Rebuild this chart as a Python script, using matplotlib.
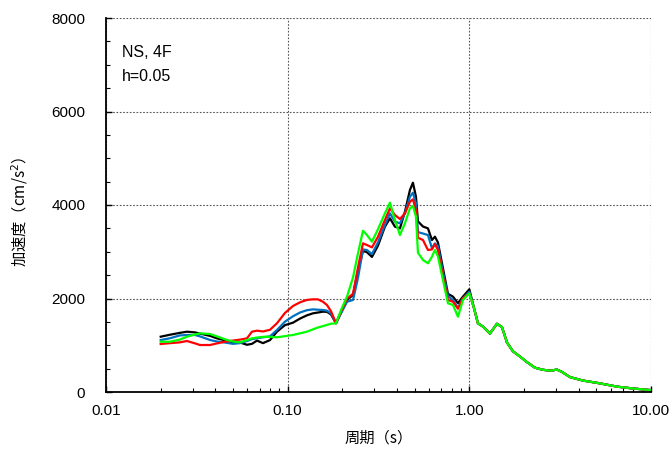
import matplotlib
matplotlib.use("Agg")
import matplotlib.pyplot as plt
import numpy as np
from matplotlib.ticker import FixedLocator, NullFormatter, FuncFormatter, MultipleLocator

# ---- data (period [s], acceleration [cm/s^2]) ----
low_periods = [0.0200, 0.0225, 0.0255, 0.0279, 0.0309, 0.0329, 0.0374, 0.0408, 0.0452,
               0.0500, 0.0546, 0.0597, 0.0636, 0.0678, 0.0731, 0.0799, 0.0873, 0.0966,
               0.1070, 0.1169, 0.1277, 0.1378, 0.1468, 0.1564, 0.1646, 0.1731, 0.1845]
mid_periods = [0.1965, 0.2121, 0.2289, 0.2438, 0.2597, 0.2731, 0.2911, 0.3141, 0.3431,
               0.3656, 0.3895, 0.4150, 0.4421, 0.4711, 0.4893, 0.5083, 0.5214, 0.5555,
               0.5920, 0.6226, 0.6467, 0.6717, 0.7157, 0.7626, 0.8125, 0.8657, 0.9223, 1.0]
tail_periods = [1.060, 1.115, 1.188, 1.298, 1.419, 1.512, 1.611, 1.738, 1.899, 2.075,
                2.296, 2.541, 2.812, 3.034, 3.233, 3.578, 4.219, 5.233, 6.492, 7.952, 10.0]

black_low = [1183, 1225, 1265, 1290, 1275, 1250, 1200, 1148, 1105, 1062, 1060, 1010, 1030,
             1100, 1045, 1110, 1290, 1430, 1483, 1570, 1640, 1683, 1700, 1718, 1715, 1660, 1470]
blue_low = [1112, 1150, 1210, 1219, 1219, 1190, 1112, 1080, 1058, 1030, 1045, 1090, 1130,
            1150, 1170, 1190, 1326, 1504, 1620, 1700, 1750, 1768, 1760, 1754, 1740, 1680, 1470]
red_low = [1027, 1045, 1062, 1091, 1040, 1005, 1005, 1040, 1076, 1100, 1120, 1148, 1290,
           1312, 1295, 1330, 1470, 1690, 1840, 1918, 1970, 1982, 1982, 1930, 1860, 1730, 1470]
green_low = [1076, 1076, 1120, 1183, 1230, 1255, 1240, 1190, 1127, 1080, 1062, 1110, 1148,
             1165, 1180, 1180, 1170, 1195, 1220, 1255, 1290, 1340, 1380, 1410, 1435, 1460, 1470]

black_mid = [1700, 1968, 2075, 2580, 3020, 2990, 2890, 3130, 3536, 3715, 3536, 3500, 3857,
             4321, 4477, 4178, 3650, 3540, 3500, 3251, 3322, 3200, 2650, 2100, 2040, 1900, 2040, 2197]
blue_mid = [1680, 1930, 1968, 2440, 3050, 3037, 2950, 3200, 3572, 3822, 3643, 3608, 3822,
            4178, 4263, 4035, 3420, 3390, 3358, 3073, 3180, 3120, 2560, 2050, 1968, 1800, 2005, 2146]
red_mid = [1720, 2000, 2100, 2660, 3180, 3144, 3094, 3320, 3679, 3929, 3786, 3700, 3822,
           4071, 4120, 3893, 3300, 3251, 3037, 3050, 3165, 3037, 2470, 1968, 1932, 1780, 2005, 2111]
green_mid = [1750, 2040, 2450, 2966, 3450, 3358, 3215, 3480, 3822, 4050, 3679, 3358, 3608,
             3929, 3979, 3750, 2980, 2824, 2753, 2894, 3037, 2900, 2400, 1897, 1861, 1611, 1968, 2111]

tail_values = [1800, 1470, 1400, 1250, 1460, 1390, 1060, 870, 760, 640,
               520, 475, 456, 480, 430, 320, 245, 185, 115, 75, 40]

series = [
    ("black", "#000000", black_low, black_mid),
    ("blue", "#0070C0", blue_low, blue_mid),
    ("red", "#FF0000", red_low, red_mid),
    ("green", "#00FF00", green_low, green_mid),
]

periods = low_periods + mid_periods + tail_periods

xticks = [0.01, 0.1, 1.0, 10.0]
yticks = [0, 2000, 4000, 6000, 8000]

fig = plt.figure(figsize=(6.69, 4.53), dpi=100)
ax = fig.add_axes([106/669, 61/453, 545/669, 374/453])

for name, color, lo, mi in series:
    vals = lo + mi + tail_values
    ax.plot(periods, vals, color=color, lw=1.6, solid_joinstyle="round")

ax.set_xscale("log")
ax.set_xlim(0.01, 10)
ax.set_ylim(0, 8000)
ax.xaxis.set_major_locator(FixedLocator(xticks))
ax.xaxis.set_minor_locator(FixedLocator([m * d for d in [0.01, 0.1, 1.0] for m in range(2, 10)]))
ax.xaxis.set_minor_formatter(NullFormatter())
ax.xaxis.set_major_formatter(FuncFormatter(lambda v, p: f"{v:.2f}"))
ax.yaxis.set_major_locator(FixedLocator(yticks))
ax.yaxis.set_minor_locator(MultipleLocator(500))

ax.grid(True, which="major", color="#555555", linestyle=(0, (1.5, 1.5)), linewidth=0.8)
ax.tick_params(which="both", direction="in", color="black")
ax.tick_params(which="major", length=4, width=1)
ax.tick_params(which="minor", length=3, width=0.8)
ax.tick_params(axis="x", which="major", pad=8.5)
ax.tick_params(axis="y", which="major", pad=15)
for s in ["top", "right"]:
    ax.spines[s].set_visible(False)
for s in ["left", "bottom"]:
    ax.spines[s].set_linewidth(1.3)

for lab in ax.get_xticklabels() + ax.get_yticklabels():
    lab.set_fontfamily(["Liberation Sans", "DejaVu Sans"])
    lab.set_fontsize(11)

jp = ["Noto Sans CJK JP", "DejaVu Sans"]
ax.set_ylabel("加速度（cm/s$^2$）", family=jp, fontsize=11)
ax.set_xlabel("周期（s）", family=jp, fontsize=11)
ax.yaxis.set_label_coords(-0.139, 0.481)
ax.xaxis.set_label_coords(0.5, -0.100)

ax.text(0.03, 0.908, "NS, 4F", transform=ax.transAxes, family=["Liberation Sans"], fontsize=11.5,
        va="center", ha="left")
ax.text(0.03, 0.843, "h=0.05", transform=ax.transAxes, family=["Liberation Sans"], fontsize=11.5,
        va="center", ha="left")

fig.savefig("out.png", dpi=100)
